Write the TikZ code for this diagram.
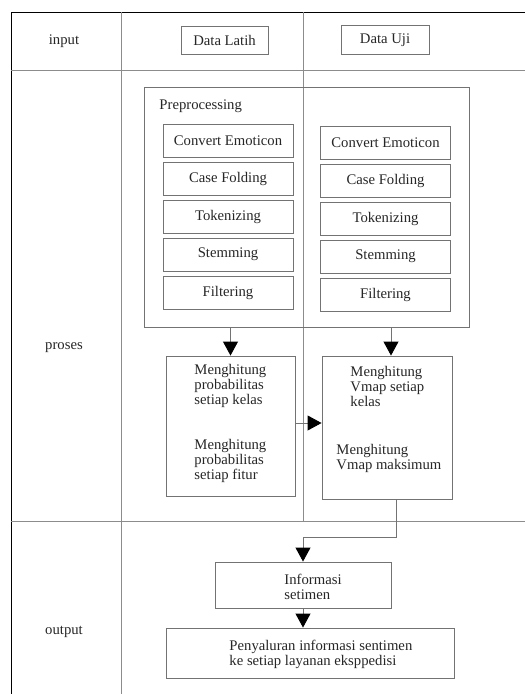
\documentclass[tikz,border=0pt]{standalone}
\usepackage{fontspec}
\setmainfont{Liberation Serif}
\usetikzlibrary{arrows.meta}

\begin{document}
\begin{tikzpicture}[x=1pt, y=-1pt, line width=0.9pt,
  every node/.style={font=\fontsize{14.7}{15}\selectfont, text=black!85, inner sep=0pt},
  box/.style={draw=black!55},
  stepbox/.style={box, minimum width=130pt, minimum height=33pt},
  txt/.style={align=left, anchor=west},
  lane/.style={draw=black!45},
  arr/.style={draw=black!55, -{Triangle[length=14pt,width=15pt,color=black]}}]
\useasboundingbox (0,0) rectangle (525,694);
\draw[black] (11,694) -- (11,12) -- (525,12);
\draw[lane] (11,70) -- (525,70);
\draw[lane] (11,521) -- (525,521);
\draw[lane] (121,12) -- (121,694);
\draw[lane] (303,12) -- (303,521);
\node (inp) at (64,41)  {input};
\node (pro) at (64,348) {proses};
\node (out) at (64,632) {output};
\node[box, minimum width=87pt, minimum height=28pt] (latih) at (224.5,40) {Data Latih};
\node[box, minimum width=88pt, minimum height=29pt] (uji) at (385,40) {Data Uji};
\node[box, minimum width=325pt, minimum height=240pt] (pre) at (306.5,207) {};
\node[txt] (pret) at (159,106) {Preprocessing};
\node[stepbox] (l1) at (228,140.5) {Convert Emoticon};
\node[stepbox] (l2) at (228,178.5) {Case Folding};
\node[stepbox] (l3) at (228,217)   {Tokenizing};
\node[stepbox] (l4) at (228,254.5) {Stemming};
\node[stepbox] (l5) at (228,293)   {Filtering};
\node[stepbox] (r1) at (385.5,142.5) {Convert Emoticon};
\node[stepbox] (r2) at (385.5,180.5) {Case Folding};
\node[stepbox] (r3) at (385.5,219)   {Tokenizing};
\node[stepbox] (r4) at (385.5,256.5) {Stemming};
\node[stepbox] (r5) at (385.5,294.5) {Filtering};
\node[box, minimum width=129pt, minimum height=140pt] (hl) at (230.5,426) {};
\node[box, minimum width=130pt, minimum height=143pt] (hr) at (387,427.5) {};
\node[txt] (hl1) at (194,386) {Menghitung\\probabilitas\\setiap kelas};
\node[txt] (hl2) at (194,461) {Menghitung\\probabilitas\\setiap fitur};
\node[txt] (hr1) at (350,386) {Menghitung\\Vmap setiap\\kelas};
\node[txt] (hr2) at (336,458.5) {Menghitung\\Vmap maksimum};
\node[box, minimum width=176pt, minimum height=46pt] (info) at (303,585) {};
\node[txt] (infot) at (284,587) {Informasi\\setimen};
\node[box, minimum width=288pt, minimum height=50pt] (pen) at (310,653) {};
\node[txt] (pent) at (229,654.5) {Penyaluran informasi sentimen\\ke setiap layanan eksppedisi};
\coordinate (bend) at (396,537);
\draw[arr] (hl.north |- pre.south) -- (hl.north);
\draw[arr] ([xshift=4pt]hr.north |- pre.south) -- ([xshift=4pt]hr.north);
\draw[arr] ([yshift=3pt]hl.east) -- ([yshift=3pt]hl.east -| hr.west);
\draw[arr] (hr.south -| bend) -- (bend) -- (bend -| info.north) -- (info.north);
\draw[arr] (info.south) -- (info.south |- pen.north);
\end{tikzpicture}
\end{document}
